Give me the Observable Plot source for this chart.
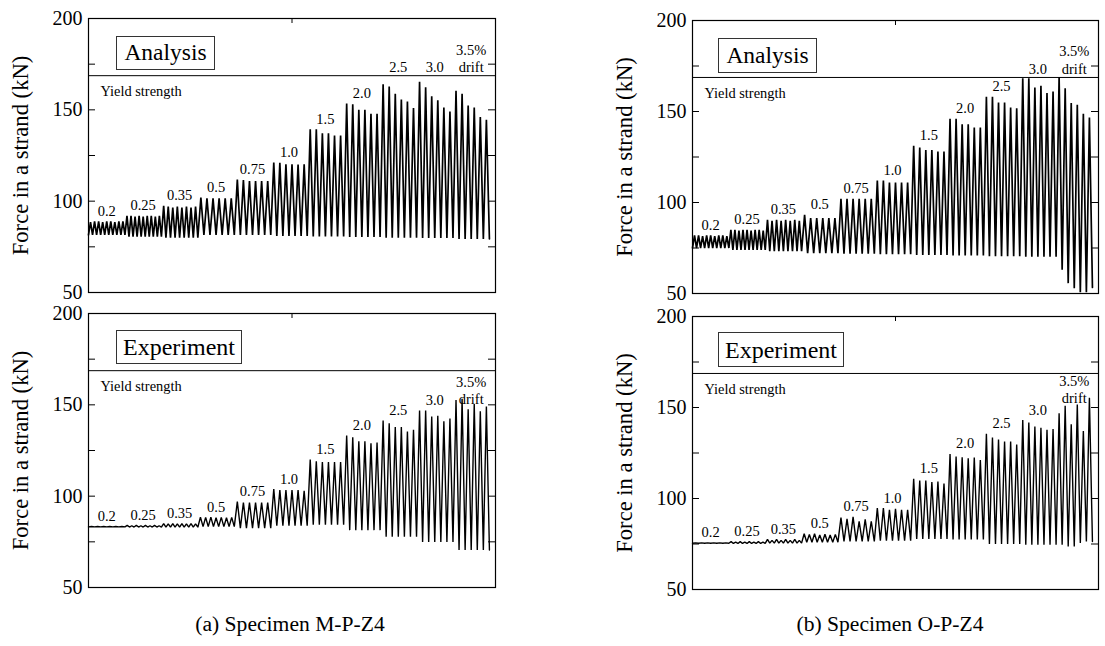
<!DOCTYPE html>
<html><head><meta charset="utf-8">
<script src="https://cdn.jsdelivr.net/npm/d3@7"></script>
<script src="https://cdn.jsdelivr.net/npm/@observablehq/plot@0.6"></script>
<style>
body{margin:0;background:#fff;font-family:"Liberation Serif","Times New Roman",serif;}
#wrap{position:relative;width:1105px;height:646px;overflow:hidden;background:#fff}
.panel{position:absolute}
.tag{position:absolute;border:1px solid #333;background:#fff;line-height:1;display:flex;align-items:center;justify-content:center;box-sizing:border-box;color:#000}
.cap{position:absolute;font-size:21.6px;text-align:center;width:400px;color:#000}
</style></head><body><div id="wrap"></div>
<script>
// ---- data (kN) ----
const driftLabels = ["0.2","0.25","0.35","0.5","0.75","1.0","1.5","2.0","2.5","3.0","3.5%\ndrift"];
const yTicks = [50, 100, 150, 200];
const minorTicks = [50, 75, 100, 125, 150, 175, 200];
const yieldStrength = 168.7;
const yLabel = "Force in a strand (kN)";
const captions = ["(a) Specimen M-P-Z4", "(b) Specimen O-P-Z4"];
const tags = ["Analysis", "Experiment"];

// Specimen M-P-Z4, analysis: peak forces per drift level
const mAnalysisPeaks = [
  [88.5, 89, 89, 88.5, 89, 89, 88.5, 89, 89],
  [92, 92, 91.5, 92, 91.5, 92, 92, 91.5, 92],
  [97.5, 97, 96.5, 97, 96.5, 97, 96.5, 97],
  [102, 101.5, 101.5, 101.5, 101.5, 101.5],
  [111.8, 111.5, 111, 111, 111, 111],
  [121.2, 121, 120.2, 120.2, 120, 120.2],
  [139.3, 139.3, 137.1, 137.1, 136, 136],
  [153.4, 153, 150.1, 150.1, 147.9, 147.9],
  [164, 162.7, 158.8, 155.7, 154.6, 151],
  [165.4, 162.3, 157.4, 155.2, 151.3, 149.1],
  [160.5, 158.8, 152.4, 151.2, 146, 144.6]
];
const mAnalysisValleys = [81.5, 80.5, 80, 81.5, 81.5, 81, 80.7, 80.4, 80, 79.8, 79.3];

// Specimen M-P-Z4, experiment
const mExpPeaks = [
  [83.4, 83.4, 83.4, 83.4, 83.4, 83.4],
  [84, 83.8, 84, 83.8, 84, 83.8, 84, 83.8],
  [85, 84.8, 85, 84.8, 85, 84.8, 85, 84.8],
  [88.5, 88.4, 88.5, 88.2, 88.4, 88.2, 88.4],
  [97, 96.5, 96.5, 96.5, 96.5, 96.5],
  [103.9, 103.4, 103.4, 103.4, 103.4, 103],
  [120, 119.1, 118.7, 118.7, 118.7, 118.7],
  [133.2, 132.3, 130.1, 130.1, 129, 129.3],
  [141.4, 139.9, 137.8, 137.8, 135.4, 136.3],
  [146.9, 146.9, 143.6, 144, 141, 142.5],
  [152.7, 153.3, 147.6, 150.5, 146.5, 149.1]
];
const mExpValleys = [83.2, 83.1, 83, 83.3, 82.5, 83.8, 84.4, 81.4, 77.8, 74.9, 70.5];

// Specimen O-P-Z4, analysis
const oAnalysisPeaks = [
  [82, 82, 81.5, 82, 82, 81.5, 82, 82, 81.5],
  [85, 85, 84.5, 85, 85, 84.5, 85, 85, 84.5],
  [90.5, 90, 90.5, 90, 90.5, 90, 90.5, 90],
  [93.2, 91.4, 91.4, 91.4, 91.4, 91.4],
  [102, 102, 102, 102, 102, 102],
  [112.1, 112.1, 111, 111, 111, 111],
  [131.1, 130.2, 128.9, 128.9, 128, 128],
  [146, 146, 143, 143, 141.2, 141.2],
  [158.1, 158.1, 155, 155, 152.2, 151.8],
  [168.3, 168.3, 163.2, 164.1, 160.1, 161],
  [168.9, 162.8, 154.6, 153.7, 148.7, 146.7]
];
const oAnalysisValleys = [75, 74, 73.2, 72.2, 71.8, 71.6, 71.2, 70.9, 70.5, 70.2,
  [63, 55.7, 52.9, 50.7, 50.7, 53.3]];

// Specimen O-P-Z4, experiment
const oExpPeaks = [
  [75.6, 75.6, 75.6, 75.6, 75.6, 75.6],
  [76.3, 76, 76.3, 76, 76.3, 76, 76.3, 76],
  [77.5, 77, 77.5, 77, 77.5, 77, 77.5, 77],
  [80.6, 80.2, 80.6, 80, 80.4, 80, 80.3],
  [89.5, 88.8, 89.9, 87.4, 88.5, 87.5],
  [94.7, 94.7, 93.8, 94.3, 93.8, 93.8],
  [110.8, 109.9, 109.9, 109, 109.3, 108.2],
  [124.5, 123, 122.7, 122.1, 122.5, 121.2],
  [135.6, 133.5, 132.4, 131.3, 131.3, 129.6],
  [143.1, 141.7, 139.5, 138.9, 137.7, 138.2],
  [146.8, 151, 140.8, 151.7, 137.1, 155.4]
];
const oExpValleys = [75.4, 75.3, 75.5, 76, 76.4, 76.8, 77.7, 77.5, 75, 74.6,
  [74.6, 73.7, 73.7, 75.5, 76.4, 76.4]];

// ---- helpers ----
const stepWidth = 6; // time units per drift level
function series(peaks, valleys) {
  const v0 = Array.isArray(valleys[0]) ? valleys[0][0] : valleys[0];
  const pts = [{t: 0, f: v0}];
  peaks.forEach((grp, g) => {
    const n = grp.length;
    grp.forEach((p, k) => {
      const v = Array.isArray(valleys[g]) ? valleys[g][k] : valleys[g];
      pts.push({t: g * stepWidth + (k + 0.5) * stepWidth / n, f: p});
      pts.push({t: g * stepWidth + (k + 1) * stepWidth / n, f: v});
    });
  });
  return pts;
}
function labels(peaks) {
  return peaks.map((grp, g) => {
    const m = d3.max(grp);
    const lab = driftLabels[g];
    const multi = lab.includes("\n");
    const base = multi ? m - 3 : m + 3;
    const top = base + (multi ? 16 : 8);
    const f = (top > yieldStrength + 1) ? yieldStrength + 2 : base;
    return {t: g * stepWidth + stepWidth / 2, f, label: lab};
  });
}

const wrap = document.getElementById("wrap");
const xDomain = [0, 67];

function panel({peaks, valleys, left, top, width, height, marginRight, lw, tag, tagBox, tagSize}) {
  const marginLeft = 88, marginTop = 18, marginBottom = 8;
  const frameW = width - marginLeft - marginRight;
  const frameH = height - marginTop - marginBottom;
  const chart = Plot.plot({
    width, height, marginLeft, marginRight, marginTop, marginBottom,
    style: {fontFamily: "'Liberation Serif', 'Times New Roman', serif", fontSize: "20px", color: "#000", background: "none", overflow: "visible"},
    x: {domain: xDomain, axis: null},
    y: {domain: [50, 200]},
    marks: [
      Plot.axisY({ticks: yTicks, tickSize: 0, tickPadding: 6, label: null, fontSize: 20, fill: "#000"}),
      Plot.text([yLabel], {text: d => d, frameAnchor: "left", textAnchor: "middle", lineAnchor: "middle", rotate: -90, dx: -68, fontSize: 22.6, fill: "#000"}),
      Plot.frame({stroke: "#000", strokeWidth: 1.2}),
      Plot.tickY(minorTicks, {y: d => d, insetRight: frameW - 7, stroke: "#000"}),
      Plot.tickY(minorTicks, {y: d => d, insetLeft: frameW - 7, stroke: "#000"}),
      Plot.tickX([d3.mean(xDomain)], {x: d => d, insetBottom: frameH - 5, stroke: "#000"}),
      Plot.ruleY([yieldStrength], {stroke: "#000", strokeWidth: 1}),
      Plot.text(["Yield strength"], {text: d => d, y: () => yieldStrength, frameAnchor: "left", dx: 12, dy: 16, textAnchor: "start", fontSize: 14.4, fill: "#000"}),
      Plot.line(series(peaks, valleys), {x: "t", y: "f", stroke: "#000", strokeWidth: lw, strokeLinejoin: "miter"}),
      Plot.text(labels(peaks), {x: "t", y: "f", text: "label", lineAnchor: "bottom", fontSize: 14.5, lineHeight: 1.2, fill: "#000"})
    ]
  });
  chart.classList.add("panel");
  chart.style.left = left + "px";
  chart.style.top = top + "px";
  wrap.appendChild(chart);
  const t = document.createElement("div");
  t.className = "tag";
  t.textContent = tag;
  Object.assign(t.style, {left: tagBox[0] + "px", top: tagBox[1] + "px", width: tagBox[2] + "px", height: tagBox[3] + "px", fontSize: tagSize + "px"});
  wrap.appendChild(t);
}

panel({peaks: mAnalysisPeaks, valleys: mAnalysisValleys, left: 0, top: 0, width: 510, height: 300, marginRight: 15, lw: 1.7, tag: tags[0], tagBox: [116, 36, 99, 34], tagSize: 23.5});
panel({peaks: mExpPeaks, valleys: mExpValleys, left: 0, top: 295, width: 510, height: 300, marginRight: 15, lw: 1.4, tag: tags[1], tagBox: [116, 330, 126, 34], tagSize: 24});
panel({peaks: oAnalysisPeaks, valleys: oAnalysisValleys, left: 604, top: 2, width: 501, height: 299, marginRight: 7, lw: 1.7, tag: tags[0], tagBox: [718, 38, 99, 35], tagSize: 23.5});
panel({peaks: oExpPeaks, valleys: oExpValleys, left: 604, top: 298, width: 501, height: 299, marginRight: 7, lw: 1.4, tag: tags[1], tagBox: [718, 332, 126, 35], tagSize: 24});

captions.forEach((c, i) => {
  const d = document.createElement("div");
  d.className = "cap";
  d.textContent = c;
  d.style.left = (i === 0 ? 90 : 690) + "px";
  d.style.top = "612px";
  wrap.appendChild(d);
});
</script></body></html>
